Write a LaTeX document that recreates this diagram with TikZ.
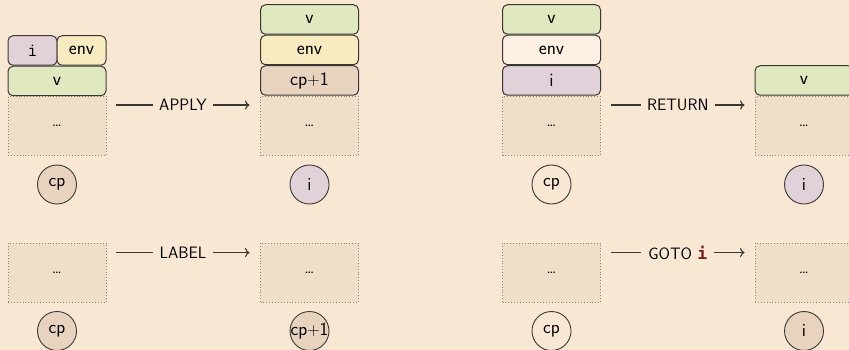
\documentclass[tikz,border=0pt]{standalone}
\usepackage{fontspec}
\newfontfamily\monobold{DejaVu Sans Mono}
\usetikzlibrary{arrows.meta,calc}
\definecolor{bg}{HTML}{F8E7D3}
\definecolor{basefill}{HTML}{EEDFC9}
\definecolor{greenf}{HTML}{E0E8BF}
\definecolor{yellowf}{HTML}{F8EBC0}
\definecolor{purplef}{HTML}{E0D2D8}
\definecolor{peachf}{HTML}{E8D3BF}
\definecolor{lightf}{HTML}{FBF0E2}
\definecolor{edge}{HTML}{3A3835}
\definecolor{dotc}{HTML}{8A8580}
\definecolor{darkred}{HTML}{7A1E1E}
\begin{document}
\begin{tikzpicture}[x=1pt,y=-1pt,
  cell/.style={draw=edge, line width=1pt, rounded corners=5pt, minimum width=98pt,
    minimum height=29.5pt, inner sep=0pt, font=\fontsize{19}{22}\sffamily\selectfont},
  halfcell/.style={cell, minimum width=49pt},
  stackbase/.style={draw=dotc, dotted, line width=0.9pt, fill=basefill, minimum width=98pt,
    minimum height=59pt, inner sep=0pt, font=\fontsize{17}{20}\sffamily\selectfont},
  ctr/.style={circle, draw=edge, line width=0.9pt, minimum size=39pt, inner sep=0pt,
    font=\fontsize{18.5}{22}\sffamily\selectfont},
  conn/.style={draw=edge, line width=1.1pt, -{To[length=4.5pt,width=9pt]}},
  lbl/.style={fill=bg, inner xsep=6.5pt, inner ysep=2pt, font=\fontsize{16.5}{19}\sffamily\selectfont}
]
\fill[bg] (0,0) rectangle (849,350);
\useasboundingbox (0,0) rectangle (849,350);

% ---------- APPLY: before ----------
\node[stackbase] (a1base) at (57,126) {\ldots};
\node[cell, fill=greenf] (a1v) at (57,81) {v};
\node[halfcell, fill=purplef] (a1i) at (32.5,50.5) {\ttfamily i};
\node[halfcell, fill=yellowf] (a1env) at (81.5,50.5) {env};
\node[ctr, fill=peachf] (a1pc) at (57,184.5) {cp};

% ---------- APPLY: after ----------
\node[stackbase] (a2base) at (309.5,126) {\ldots};
\node[cell, fill=peachf] (a2cp) at (309.5,80.5) {cp$+$1};
\node[cell, fill=yellowf] (a2env) at (309.5,50) {env};
\node[cell, fill=greenf] (a2v) at (309.5,19.5) {v};
\node[ctr, fill=purplef] (a2pc) at (309.5,184.5) {i};

\draw[conn] ($(a1base.north east)+(10,9)$) -- node[lbl] {APPLY} ($(a2base.north west)+(-10.5,9)$);

% ---------- RETURN: before ----------
\node[stackbase] (r1base) at (551.5,126) {\ldots};
\node[cell, fill=purplef] (r1i) at (551.5,80.5) {i};
\node[cell, fill=lightf] (r1env) at (551.5,50) {env};
\node[cell, fill=greenf] (r1v) at (551.5,19.5) {v};
\node[ctr] (r1pc) at (551.5,184.5) {cp};

% ---------- RETURN: after ----------
\node[stackbase] (r2base) at (804,126) {\ldots};
\node[cell, fill=greenf] (r2v) at (804,80.5) {v};
\node[ctr, fill=purplef] (r2pc) at (804,184.5) {i};

\draw[conn] ($(r1base.north east)+(10,9)$) -- node[lbl] {RETURN} ($(r2base.north west)+(-10,9)$);

% ---------- LABEL ----------
\node[stackbase] (l1base) at (57,272.5) {\ldots};
\node[ctr, fill=peachf] (l1pc) at (57,331) {cp};
\node[stackbase] (l2base) at (309.5,272.5) {\ldots};
\node[ctr, fill=peachf] (l2pc) at (309.5,331) {\makebox[0pt]{cp$+$1}};

\draw[conn] ($(l1base.north east)+(10,10)$) -- node[lbl] {LABEL} ($(l2base.north west)+(-10.5,10)$);

% ---------- GOTO ----------
\node[stackbase] (g1base) at (551.5,272.5) {\ldots};
\node[ctr] (g1pc) at (551.5,331) {cp};
\node[stackbase] (g2base) at (804,272.5) {\ldots};
\node[ctr, fill=peachf] (g2pc) at (804,331) {i};

\draw[conn] ($(g1base.north east)+(10,10)$) -- node[lbl, inner xsep=7pt] {GOTO \textcolor{darkred}{\monobold\bfseries i}} ($(g2base.north west)+(-10,10)$);
\end{tikzpicture}
\end{document}
